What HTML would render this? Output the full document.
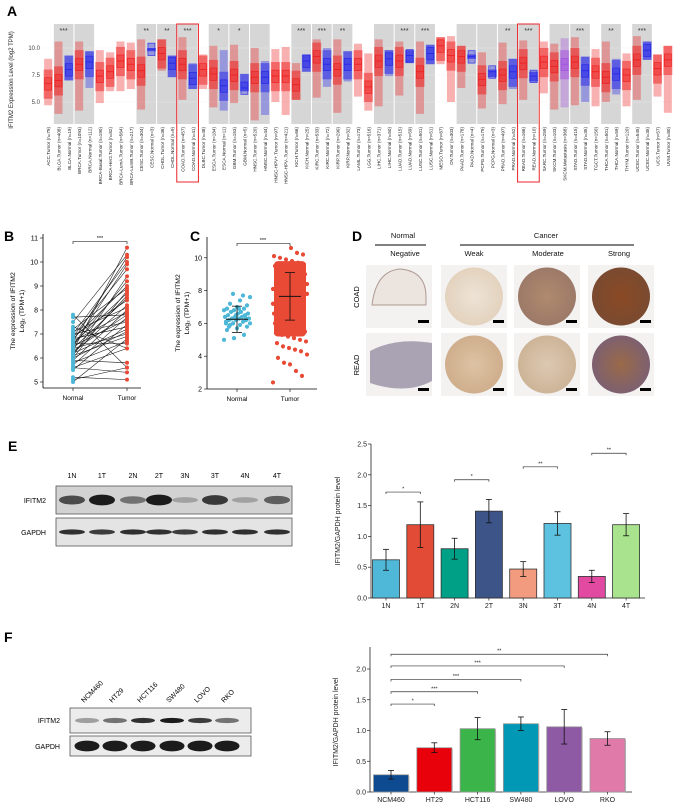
<!DOCTYPE html>
<html><head><meta charset="utf-8">
<style>
html,body{margin:0;padding:0;background:#fff;}
svg{display:block;font-family:"Liberation Sans",Arial,sans-serif;}
</style></head>
<body>
<svg id="fig" width="676" height="805" viewBox="0 0 676 805" xmlns="http://www.w3.org/2000/svg">
<defs>
<radialGradient id="tLight" cx="50%" cy="50%" r="50%"><stop offset="0" stop-color="#ede3d6"/><stop offset="1" stop-color="#e3d2bd"/></radialGradient>
<radialGradient id="tMod" cx="50%" cy="50%" r="50%"><stop offset="0" stop-color="#b08a6e"/><stop offset="1" stop-color="#9c7a68"/></radialGradient>
<radialGradient id="tStrong" cx="50%" cy="50%" r="50%"><stop offset="0" stop-color="#8a4a25"/><stop offset="1" stop-color="#7a4a30"/></radialGradient>
<radialGradient id="tReadW" cx="50%" cy="50%" r="50%"><stop offset="0" stop-color="#dcc3a4"/><stop offset="1" stop-color="#cfae8c"/></radialGradient>
<radialGradient id="tReadM" cx="50%" cy="50%" r="50%"><stop offset="0" stop-color="#dcc9b2"/><stop offset="1" stop-color="#cdb497"/></radialGradient>
<radialGradient id="tReadS" cx="50%" cy="50%" r="50%"><stop offset="0" stop-color="#9a6a48"/><stop offset="1" stop-color="#7d6070"/></radialGradient>
</defs>
<g id="panelA"></g>
<g id="panelB"></g>
<g id="panelC"></g>
<g id="panelD"></g>
<g id="panelE"></g>
<g id="panelEchart"></g>
<g id="panelF"></g>
<g id="panelFchart"></g>
</svg>
<script>
// ---------- Panel A data ----------
const aCategories = ["ACC.Tumor (n=79)","BLCA.Tumor (n=408)","BLCA.Normal (n=19)","BRCA.Tumor (n=1093)","BRCA.Normal (n=112)","BRCA-Basal.Tumor (n=190)","BRCA-Her2.Tumor (n=82)","BRCA-LumA.Tumor (n=564)","BRCA-LumB.Tumor (n=217)","CESC.Tumor (n=304)","CESC.Normal (n=3)","CHOL.Tumor (n=36)","CHOL.Normal (n=9)","COAD.Tumor (n=457)","COAD.Normal (n=41)","DLBC.Tumor (n=48)","ESCA.Tumor (n=184)","ESCA.Normal (n=11)","GBM.Tumor (n=153)","GBM.Normal (n=5)","HNSC.Tumor (n=520)","HNSC.Normal (n=44)","HNSC-HPV+.Tumor (n=97)","HNSC-HPV-.Tumor (n=421)","KICH.Tumor (n=66)","KICH.Normal (n=25)","KIRC.Tumor (n=533)","KIRC.Normal (n=72)","KIRP.Tumor (n=290)","KIRP.Normal (n=32)","LAML.Tumor (n=173)","LGG.Tumor (n=516)","LIHC.Tumor (n=371)","LIHC.Normal (n=50)","LUAD.Tumor (n=515)","LUAD.Normal (n=59)","LUSC.Tumor (n=501)","LUSC.Normal (n=51)","MESO.Tumor (n=87)","OV.Tumor (n=303)","PAAD.Tumor (n=178)","PAAD.Normal (n=4)","PCPG.Tumor (n=179)","PCPG.Normal (n=3)","PRAD.Tumor (n=497)","PRAD.Normal (n=52)","READ.Tumor (n=166)","READ.Normal (n=10)","SARC.Tumor (n=259)","SKCM.Tumor (n=103)","SKCM.Metastasis (n=368)","STAD.Tumor (n=415)","STAD.Normal (n=35)","TGCT.Tumor (n=150)","THCA.Tumor (n=501)","THCA.Normal (n=59)","THYM.Tumor (n=120)","UCEC.Tumor (n=545)","UCEC.Normal (n=35)","UCS.Tumor (n=57)","UVM.Tumor (n=80)"];
const aMedian = [6.7,7.0,8.0,8.5,8.7,7.4,7.8,8.8,8.5,7.9,9.9,9.5,8.6,8.5,7.2,8.0,7.6,6.5,7.5,6.3,7.3,7.3,7.4,7.4,6.6,8.8,9.2,8.5,8.0,8.5,8.5,6.4,8.8,9.0,8.8,9.3,7.8,9.5,10.2,9.3,9.2,9.2,7.1,7.8,7.5,7.8,8.6,7.4,8.7,8.3,8.5,8.7,7.9,7.8,7.3,7.6,7.5,8.9,9.8,8.1,8.9];
const aLow = [4.7,3.9,7.0,4.2,6.3,4.9,6.0,6.0,6.2,4.3,9.7,7.9,7.3,5.2,6.2,6.2,4.5,4.2,4.9,6.0,3.3,3.8,5.0,3.8,5.2,7.8,5.4,6.4,4.0,6.9,5.5,4.2,4.6,7.4,5.6,8.6,3.9,8.5,8.5,5.0,6.3,9.0,4.4,7.3,4.8,6.2,5.2,6.9,5.8,4.3,4.5,4.7,5.0,4.6,5.0,5.7,4.6,5.2,8.9,5.5,4.0];
const aHigh = [9.0,10.6,9.3,10.6,9.7,9.8,9.6,10.6,10.5,10.8,10.0,10.8,9.3,11.0,8.6,9.4,10.2,9.8,10.3,7.6,10.0,8.8,9.9,10.1,8.6,9.4,10.8,10.0,10.8,9.7,10.4,9.5,10.8,9.8,10.6,9.8,10.6,10.3,11.0,11.1,10.2,9.4,9.6,8.0,10.5,9.0,10.7,7.8,10.6,10.4,10.9,11.0,9.2,9.9,10.6,9.0,9.5,11.1,10.6,9.4,10.2];
const aBands = [[1,2],[3,4],[9,10],[11,12],[13,14],[16,17],[18,19],[20,21],[24,25],[26,27],[28,29],[32,33],[34,35],[36,37],[40,41],[42,43],[44,45],[46,47],[49,50],[51,52],[54,55],[57,58]];
const aStars = [[1,"***"],[9,"**"],[11,"**"],[13,"***"],[16,"*"],[18,"*"],[24,"***"],[26,"***"],[28,"**"],[34,"***"],[36,"***"],[44,"**"],[46,"***"],[51,"***"],[54,"**"],[57,"***"]];
const aTicks = [5.0,7.5,10.0];
const aHighlight = [13,46];

// ---------- Panel B data ----------
const bNormal = [5.0,5.1,5.2,5.5,5.6,5.6,5.7,5.8,5.9,5.9,6.0,6.0,6.1,6.1,6.2,6.2,6.3,6.3,6.4,6.4,6.5,6.5,6.6,6.6,6.7,6.7,6.8,6.8,6.9,6.9,7.0,7.0,7.1,7.2,7.3,7.5,7.7,7.8,6.2,6.5];
const bTumor = [6.8,5.6,5.1,7.4,5.4,6.4,7.7,6.7,8.0,5.8,7.1,8.8,6.9,9.4,7.2,8.2,7.8,10.6,7.0,8.5,7.6,9.9,6.6,8.7,7.9,10.2,7.3,9.0,8.4,9.7,7.5,10.0,8.1,8.9,6.4,10.3,7.8,5.6,8.6,9.2];
const bTicks = [5,6,7,8,9,10,11];

// ---------- Panel C data ----------
const cNormal = [5.0,5.1,5.3,5.6,5.7,5.8,5.9,5.9,6.0,6.0,6.1,6.1,6.2,6.2,6.2,6.3,6.3,6.3,6.4,6.4,6.4,6.5,6.5,6.6,6.6,6.7,6.7,6.8,6.8,6.9,6.9,7.0,7.1,7.2,7.4,7.6,7.8,7.7,6.0,6.5,6.3,5.8,6.9];
const cTumor = [2.4,2.8,3.1,3.5,3.6,3.9,4.1,4.3,4.4,4.5,4.6,4.8,4.9,5.0,5.1,5.2,5.3,5.4,5.5,5.6,5.7,5.8,5.9,6.0,6.1,6.2,6.3,6.4,6.5,6.6,6.7,6.8,6.9,7.0,7.1,7.2,7.3,7.4,7.5,7.6,7.7,7.8,7.9,8.0,8.1,8.2,8.3,8.4,8.5,8.6,8.7,8.8,8.9,9.0,9.1,9.2,9.3,9.4,9.5,9.6,9.7,9.8,9.9,10.0,10.1,10.2,10.3,10.6,6.2,7.3,8.1,8.8,9.6,5.4,6.8,7.7,8.4,9.2];
const cMean = [6.25,7.65];
const cSD = [0.8,1.45];
const cTicks = [2,4,6,8,10];

// ---------- Panel E data ----------
const eCategories = ["1N","1T","2N","2T","3N","3T","4N","4T"];
const eValues = [0.62,1.19,0.80,1.41,0.47,1.21,0.35,1.19];
const eErrors = [0.17,0.37,0.17,0.19,0.12,0.19,0.10,0.18];
const eColors = ["#4fb8d8","#e24b36","#00a086","#3c5488","#f39b7f","#5cc2df","#e14aa0","#a9e38d"];
const eTicks = [0.0,0.5,1.0,1.5,2.0,2.5];
const eSig = [[0,1,1.72,"*"],[2,3,1.92,"*"],[4,5,2.13,"**"],[6,7,2.35,"**"]];
const eBlotIFITM2 = [0.7,0.95,0.5,0.95,0.25,0.8,0.25,0.6];
const eBlotGAPDH = [0.85,0.8,0.85,0.85,0.8,0.85,0.85,0.85];

// ---------- Panel F data ----------
const fCategories = ["NCM460","HT29","HCT116","SW480","LOVO","RKO"];
const fValues = [0.28,0.72,1.03,1.11,1.06,0.87];
const fErrors = [0.07,0.08,0.18,0.11,0.28,0.11];
const fColors = ["#0e4a90","#e8000b","#3bb54a","#0098b5","#8e5aa3","#e07aa9"];
const fTicks = [0.0,0.5,1.0,1.5,2.0];
const fSig = [[1,1.43,"*"],[2,1.63,"***"],[3,1.83,"***"],[4,2.05,"***"],[5,2.24,"**"]];
const fBlotIFITM2 = [0.35,0.55,0.85,0.95,0.8,0.55];
const fBlotGAPDH = [0.95,0.95,0.95,0.95,0.95,0.95];

const NS="http://www.w3.org/2000/svg";
function mk(parent,tag,attrs,text){const e=document.createElementNS(NS,tag);for(const k in attrs)e.setAttribute(k,attrs[k]);if(text!==undefined)e.textContent=text;parent.appendChild(e);return e;}
const svg=document.getElementById('fig');
function letter(x,y,t){const e=mk(svg,'text',{x:x,y:y,'font-size':14,'font-weight':'bold',fill:'#000'},t);

}
letter(7,16,'A');letter(4,241,'B');letter(190,241,'C');letter(352,241,'D');letter(8,451,'E');letter(4,642,'F');

// ===== Panel A =====
(function(){
const g=document.getElementById('panelA');
const L=43,R=673,T=24,B=124,n=aCategories.length,w=(R-L)/n;
const xA=i=>L+(i+0.5)*w, yA=v=>48+(10-v)*10.8;
const bgr=mk(g,'rect',{x:L,y:T,width:R-L,height:B-T,fill:'#fff'});


aBands.forEach(b=>{const r=mk(g,'rect',{x:L+b[0]*w+0.5,y:T,width:(b[1]-b[0]+1)*w-1,height:B-T,fill:'#d6d6d6'});

});
aTicks.forEach(t=>{mk(g,'line',{x1:L,x2:R,y1:yA(t),y2:yA(t),stroke:'#eee','stroke-width':0.4});
const tx=mk(g,'text',{x:L-3,y:yA(t)+2,'font-size':6,'text-anchor':'end',fill:'#444'},t.toFixed(1));

});
const yl=mk(g,'text',{transform:`translate(13,${(T+B)/2+6}) rotate(-90)`,'font-size':6,'text-anchor':'middle',fill:'#222'},'IFITM2 Expression Level (log2 TPM)');


aCategories.forEach((c,i)=>{
 const col=c.indexOf('Metastasis')>=0?'#a24de0':(c.indexOf('Normal')>=0?'#2323e8':'#ee1c1c');
 const x=xA(i);
 const hi=Math.min(aHigh[i],11.2), lo=aLow[i], m=aMedian[i];
 const cl=mk(g,'rect',{x:x-4,y:yA(hi),width:8,height:yA(lo)-yA(hi),fill:col,opacity:0.35});
 
 
 const core=mk(g,'rect',{x:x-4.5,y:yA(Math.min(hi,m+1.3)),width:9,height:yA(Math.max(lo,m-1.4))-yA(Math.min(hi,m+1.3)),fill:col,opacity:0.5});
 
 
 const bx=mk(g,'rect',{x:x-3.5,y:yA(m+0.55),width:7,height:yA(m-0.6)-yA(m+0.55),fill:col,'fill-opacity':0.35,stroke:col,'stroke-width':0.6});
 
 
 mk(g,'line',{x1:x-3.5,x2:x+3.5,y1:yA(m),y2:yA(m),stroke:col,'stroke-width':0.8});
 const lb=mk(g,'text',{transform:`translate(${x+2},127) rotate(-90)`,'font-size':4.6,'text-anchor':'end',fill:'#222'},c);
 
 
});
aStars.forEach(s=>{const t=mk(g,'text',{x:L+(s[0]+1)*w,y:33,'font-size':7,'text-anchor':'middle',fill:'#333'},s[1]);

});
aHighlight.forEach(i=>{const r=mk(g,'rect',{x:L+i*w-0.5,y:T,width:2*w+1,height:182-T,fill:'none',stroke:'#e8242a','stroke-width':1});

});
})();

// ===== Panel B =====
(function(){
const g=document.getElementById('panelB');
const yB=v=>382-(v-5)*24, xN=73, xT=127;
mk(g,'line',{x1:43,x2:43,y1:234,y2:388,stroke:'#000','stroke-width':0.8});
mk(g,'line',{x1:43,x2:141,y1:388,y2:388,stroke:'#000','stroke-width':0.8});
bTicks.forEach(t=>{mk(g,'line',{x1:40,x2:43,y1:yB(t),y2:yB(t),stroke:'#000','stroke-width':0.6});
const tx=mk(g,'text',{x:38,y:yB(t)+2.5,'font-size':7,'text-anchor':'end'},t);

});
[[xN,'Normal'],[xT,'Tumor']].forEach(a=>{mk(g,'line',{x1:a[0],x2:a[0],y1:388,y2:391,stroke:'#000','stroke-width':0.6});
const tx=mk(g,'text',{x:a[0],y:400,'font-size':6.5,'text-anchor':'middle'},a[1]);

});
const yl=mk(g,'text',{transform:'translate(15,311) rotate(-90)','font-size':6.8,'text-anchor':'middle'},'The expression of IFITM2');


const yl2=mk(g,'text',{transform:'translate(24,311) rotate(-90)','font-size':6.8,'text-anchor':'middle'},'Log\u2082 (TPM+1)');


bNormal.forEach((v,i)=>{const l=mk(g,'line',{x1:xN,y1:yB(v),x2:xT,y2:yB(bTumor[i]),stroke:'#111','stroke-width':0.55});

});
bNormal.forEach(v=>{const c=mk(g,'circle',{cx:xN,cy:yB(v),r:2,fill:'#4cb7d6'});

});
bTumor.forEach(v=>{const c=mk(g,'circle',{cx:xT,cy:yB(v),r:2,fill:'#e84a35'});

});
mk(g,'path',{d:`M${xN},244 V241.5 H${xT} V244`,fill:'none',stroke:'#000','stroke-width':0.6});
const s=mk(g,'text',{x:100,y:240,'font-size':5.5,'text-anchor':'middle'},'***');


})();

// ===== Panel C =====
(function(){
const g=document.getElementById('panelC');
const yC=v=>389-(v-2)*16.4, xN=237, xT=290;
mk(g,'line',{x1:207,x2:207,y1:237,y2:389,stroke:'#000','stroke-width':0.8});
mk(g,'line',{x1:207,x2:317,y1:389,y2:389,stroke:'#000','stroke-width':0.8});
cTicks.forEach(t=>{mk(g,'line',{x1:204,x2:207,y1:yC(t),y2:yC(t),stroke:'#000','stroke-width':0.6});
const tx=mk(g,'text',{x:202,y:yC(t)+2.5,'font-size':7,'text-anchor':'end'},t);

});
[[xN,'Normal'],[xT,'Tumor']].forEach(a=>{mk(g,'line',{x1:a[0],x2:a[0],y1:389,y2:392,stroke:'#000','stroke-width':0.6});
const tx=mk(g,'text',{x:a[0],y:401,'font-size':6.5,'text-anchor':'middle'},a[1]);

});
const yl=mk(g,'text',{transform:'translate(180,313) rotate(-90)','font-size':6.8,'text-anchor':'middle'},'The expression of IFITM2');


const yl2=mk(g,'text',{transform:'translate(189,313) rotate(-90)','font-size':6.8,'text-anchor':'middle'},'Log\u2082 (TPM+1)');


cNormal.forEach((v,i)=>{const c=mk(g,'circle',{cx:xN+((i*37)%27-13),cy:yC(v),r:2.1,fill:'#4cb7d6'});

});
const core=mk(g,'rect',{x:xT-16,y:yC(9.8),width:32,height:yC(5.2)-yC(9.8),rx:4,fill:'#e84a35'});


cTumor.forEach((v,i)=>{const c=mk(g,'circle',{cx:xT+((i*29)%35-17),cy:yC(v),r:2.1,fill:'#e84a35'});

});
[xN,xT].forEach((x,i)=>{const m=cMean[i],s=cSD[i];
mk(g,'line',{x1:x,x2:x,y1:yC(m+s),y2:yC(m-s),stroke:'#111','stroke-width':0.8});
[m+s,m-s].forEach(v=>mk(g,'line',{x1:x-5,x2:x+5,y1:yC(v),y2:yC(v),stroke:'#111','stroke-width':0.8}));
const ml=mk(g,'line',{x1:x-11,x2:x+11,y1:yC(m),y2:yC(m),stroke:'#111','stroke-width':1});

});
mk(g,'path',{d:`M${xN},246 V243.5 H${xT} V246`,fill:'none',stroke:'#000','stroke-width':0.6});
const s=mk(g,'text',{x:263,y:242,'font-size':5.5,'text-anchor':'middle'},'***');


})();

// ===== Panel D =====
(function(){
const g=document.getElementById('panelD');
function t(x,y,s,txt,name){const e=mk(g,'text',{x:x,y:y,'font-size':s,'text-anchor':'middle',fill:'#111'},txt);

}
t(403,238,7.5,'Normal','header-normal');t(546,238,7.5,'Cancer','header-cancer');
mk(g,'line',{x1:375,x2:426,y1:245,y2:245,stroke:'#000','stroke-width':0.9});
mk(g,'line',{x1:460,x2:634,y1:245,y2:245,stroke:'#000','stroke-width':0.9});
t(405,256,7.5,'Negative','header-negative');t(474,256,7.5,'Weak','header-weak');t(548,256,7.5,'Moderate','header-moderate');t(619,256,7.5,'Strong','header-strong');
const rl1=mk(g,'text',{transform:'translate(359,297) rotate(-90)','font-size':7.5,'text-anchor':'middle'},'COAD');


const rl2=mk(g,'text',{transform:'translate(359,365) rotate(-90)','font-size':7.5,'text-anchor':'middle'},'READ');


const cols=[366,441,514,588], rows=[265,333], W=66, H=63;
const fills=[['#efe8e2','url(#tLight)','url(#tMod)','url(#tStrong)'],['#a9a3b4','url(#tReadW)','url(#tReadM)','url(#tReadS)']];
rows.forEach((y,ri)=>cols.forEach((x,ci)=>{
 const bg=mk(g,'rect',{x:x,y:y,width:W,height:H,fill:'#f3f2f1'});
 
 
 if(ci===0){
  if(ri===0){mk(g,'path',{d:`M${x+6},${y+40} Q${x+10},${y+6} ${x+34},${y+4} Q${x+60},${y+6} ${x+60},${y+32} L${x+60},${y+40} Z`,fill:'#ece4de',stroke:'#b09a94','stroke-width':1});}
  else{mk(g,'path',{d:`M${x+4},${y+50} L${x+4},${y+18} Q${x+30},${y+4} ${x+66},${y+10} L${x+66},${y+48} Q${x+40},${y+62} ${x+4},${y+50} Z`,fill:fills[1][0]});}
 } else {
  mk(g,'circle',{cx:x+W/2,cy:y+H/2,r:29,fill:fills[ri][ci]});
 }
 mk(g,'rect',{x:x+W-14,y:y+H-8,width:11,height:3,fill:'#000'});
}));
})();

// ===== Blot helper =====
function blot(g,x,y,w,h,ints,centers,bg,name,rx,flat){
 const r=mk(g,'rect',{x:x,y:y,width:w,height:h,fill:bg,stroke:'#555','stroke-width':0.8});
 
 
 ints.forEach((v,i)=>{const e=mk(g,'ellipse',{cx:centers[i],cy:y+h/2,rx:rx,ry:flat?2.6:(2+v*3.6),fill:'#111','fill-opacity':v});
 
 });
}

// ===== Panel E blot =====
(function(){
const g=document.getElementById('panelE');
const centers=[72,102,133,159,185,215,245,277];
eCategories.forEach((c,i)=>{const t=mk(g,'text',{x:centers[i],y:478,'font-size':7,'text-anchor':'middle'},c);

});
blot(g,56,486,236,28,eBlotIFITM2,centers,'#d2d2d2','ifitm2-blot',13,false);
blot(g,56,518,236,28,eBlotGAPDH,centers,'#e4e4e4','gapdh-blot',13,true);
const a=mk(g,'text',{x:46,y:503,'font-size':7,'text-anchor':'end'},'IFITM2');


const b=mk(g,'text',{x:46,y:535,'font-size':7,'text-anchor':'end'},'GAPDH');


})();

// ===== Panel F blot =====
(function(){
const g=document.getElementById('panelF');
const centers=[87,115,143,172,200,227];
fCategories.forEach((c,i)=>{const t=mk(g,'text',{transform:`translate(${centers[i]-3},${703}) rotate(-45)`,'font-size':7},c);

});
blot(g,70,708,181,25,fBlotIFITM2,centers,'#ececec','ifitm2-blot',12,true);
blot(g,70,736,181,20,fBlotGAPDH,centers,'#ececec','gapdh-blot',12.5,false);
const a=mk(g,'text',{x:60,y:723,'font-size':7,'text-anchor':'end'},'IFITM2');


const b=mk(g,'text',{x:60,y:749,'font-size':7,'text-anchor':'end'},'GAPDH');


})();

// ===== Bar chart helper =====
function barChart(g,o){
 const y=v=>o.y0-v*o.ppu;
 mk(g,'line',{x1:o.x0,x2:o.x0,y1:o.top,y2:o.y0,stroke:'#222','stroke-width':0.8});
 mk(g,'line',{x1:o.x0,x2:o.xEnd,y1:o.y0,y2:o.y0,stroke:'#222','stroke-width':0.8});
 o.ticks.forEach(t=>{mk(g,'line',{x1:o.x0-3,x2:o.x0,y1:y(t),y2:y(t),stroke:'#222','stroke-width':0.7});
 const tx=mk(g,'text',{x:o.x0-4,y:y(t)+2.5,'font-size':7,'text-anchor':'end',fill:'#222'},t.toFixed(1));
 
 });
 const yl=mk(g,'text',{transform:`translate(${o.labelX},${o.labelY}) rotate(-90)`,'font-size':7,'text-anchor':'middle',fill:'#222'},'IFITM2/GAPDH protein level');
 
 
 const cx=i=>o.first+i*o.step;
 o.cats.forEach((c,i)=>{
  const x=cx(i), v=o.vals[i], e=o.errs[i];
  if(o.shadow) mk(g,'rect',{x:x-o.bw/2+1,y:y(v)+1,width:o.bw,height:o.y0-y(v)-1,fill:'#bbb'});
  const r=mk(g,'rect',{x:x-o.bw/2,y:y(v),width:o.bw,height:o.y0-y(v),fill:o.cols[i],stroke:o.shadow?'#999':'#333','stroke-width':0.8});
  
  
  mk(g,'line',{x1:x,x2:x,y1:y(v+e),y2:y(v-e),stroke:'#111','stroke-width':0.8});
  [v+e,v-e].forEach(w=>mk(g,'line',{x1:x-3,x2:x+3,y1:y(w),y2:y(w),stroke:'#111','stroke-width':0.8}));
  mk(g,'line',{x1:x,x2:x,y1:o.y0,y2:o.y0+2.5,stroke:'#222','stroke-width':0.7});
  const t=mk(g,'text',{x:x,y:o.y0+10,'font-size':7,'text-anchor':'middle',fill:'#222'},c);
  
  
 });
 o.sig.forEach(s=>{
  const a=cx(s[0]),b=cx(s[1]),h=y(s[2]);
  const p=mk(g,'path',{d:`M${a},${h+2} V${h} H${b} V${h+2}`,fill:'none',stroke:'#333','stroke-width':0.7});
  
  
  const t=mk(g,'text',{x:(a+b)/2,y:h-1.5,'font-size':5.5,'text-anchor':'middle',fill:'#222'},s[3]);
  
  
 });
}
barChart(document.getElementById('panelEchart'),{x0:371,xEnd:645,y0:598,top:444,ppu:61.6,ticks:eTicks,
 cats:eCategories,vals:eValues,errs:eErrors,cols:eColors,first:386,step:34.3,bw:27,sig:eSig,labelX:340,labelY:521,shadow:false});
barChart(document.getElementById('panelFchart'),{x0:370,xEnd:632,y0:792,top:647,ppu:61.5,ticks:fTicks,
 cats:fCategories,vals:fValues,errs:fErrors,cols:fColors,first:391,step:43.3,bw:35,
 sig:fSig.map(s=>[0,s[0],s[1],s[2]]),labelX:338,labelY:722,shadow:true});
</script>
</body></html>
